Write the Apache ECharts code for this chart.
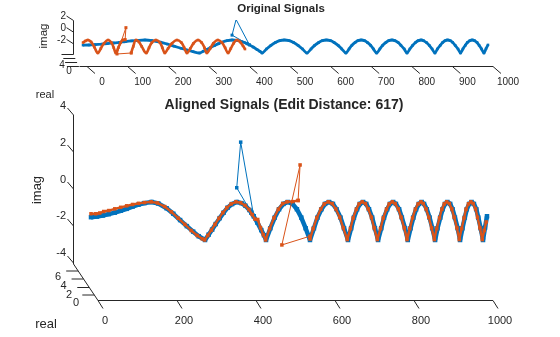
<!DOCTYPE html>
<html><head><meta charset="utf-8">
<script src="https://cdn.jsdelivr.net/npm/echarts@6/dist/echarts.min.js"></script>
<style>html,body{margin:0;padding:0;background:#fff}#c{width:560px;height:337px}</style>
</head><body><div id="c"></div><script>
// ---------- data ----------
const xTicks = [0,100,200,300,400,500,600,700,800,900,1000];
const xTicksBottom = [0,200,400,600,800,1000];
const yTicksTop = [2,0,-2];
const yTicksBottom = [4,2,0,-2,-4];
const realTicksTop = ['4','0'];
const realTicksBottom = ['6','4','2','0'];

// signal 1 (blue), same samples in both panels
const blueX = [0,15,30,45,60,75,90,105,120,135,153,170,191,208,225,242,258,272,288,297,306,315,325,335,345,356,368,380,390,400,405,411,420,430,437,442,
 453,464,475,486,497,509,520,531,542,553,563,572,582,591,601,611,620,630,639,649,657,664,672,679,687,695,702,710,717,725,
 733,740,748,755,763,770,778,785,793,800,807,814,821,828,835,841,848,855,862,869,875,882,888,894,900,907,913,919,926,932,
 938,944,949,955,961,967,973,978,984,990,995,1000];
const blueY = [-1.80,-1.77,-1.71,-1.64,-1.56,-1.46,-1.36,-1.24,-1.14,-1.06,-1.00,-1.08,-1.33,-1.62,-1.95,-2.27,-2.56,-2.80,-3.00,-2.72,-2.45,-2.16,-1.85,-1.56,-1.30,-1.11,-1.00,-1.06,-1.20,-1.42,-1.56,-1.75,-2.08,-2.48,-2.75,-3.00,
 -2.38,-1.82,-1.38,-1.10,-1.00,-1.10,-1.38,-1.82,-2.38,-3.00,-2.38,-1.82,-1.38,-1.10,-1.00,-1.10,-1.38,-1.82,-2.38,-3.00,-2.38,-1.82,-1.38,-1.10,-1.00,-1.10,-1.38,-1.82,-2.38,-3.00,
 -2.38,-1.82,-1.38,-1.10,-1.00,-1.10,-1.38,-1.82,-2.38,-3.00,-2.38,-1.82,-1.38,-1.10,-1.00,-1.10,-1.38,-1.82,-2.38,-3.00,-2.38,-1.82,-1.38,-1.10,-1.00,-1.10,-1.38,-1.82,-2.38,-3.00,
 -2.38,-1.82,-1.38,-1.10,-1.00,-1.10,-1.38,-1.82,-2.38,-3.00,-2.35,-1.75];
const blueSpikeX = [405,368,378,411];
const blueSpikeY = [-1.56,-0.25,2.15,-1.75];

// signal 2 (orange), original (shorter) version
const orangeOrigX = [0,6,12,20,28,37,44,52,62,70,76,81,87,93,98,104,104,119,124,131,138,145,156,163,170,180,190,196,202,210,220,232,243,250,257,265,273,284,293,300,306,314,322,333,343,351,358,365,372,380,388,395,400];
const orangeOrigY = [-1.4,-1.15,-1.0,-1.3,-2.1,-3.0,-2.3,-1.5,-1.0,-1.4,-2.2,-3.0,-2.2,-1.4,-1.0,-0.95,null,-3.0,-2.0,-1.0,-1.3,-2.0,-3.0,-2.2,-1.4,-1.0,-1.4,-2.2,-3.0,-2.3,-1.5,-1.0,-1.4,-2.2,-3.0,-2.3,-1.5,-1.0,-1.4,-2.2,-3.0,-2.3,-1.5,-1.0,-1.4,-2.2,-3.0,-2.3,-1.5,-1.0,-1.3,-1.9,-2.4];
const orangeOrigSpikeX = [104,106,84,119];
const orangeOrigSpikeY = [-0.95,0.9,-3.15,-3.0];

// signal 2 (orange), aligned version
const orangeAlX = [0,12,22,32,45,60,75,90,105,120,135,152,168,186,203,220,237,253,268,281,287,295,304,313,323,333,343,354,366,378,389,399,407,414,421,428,435,441,
 451,462,473,484,495,509,523,523,553,561,570,580,589,599,609,618,628,637,647,655,662,670,677,685,693,700,708,715,723,
 731,738,746,753,761,768,776,783,791,798,805,812,819,826,833,839,846,853,860,867,873,880,886,892,898,905,911,917,924,930,
 936,942,947,953,959,965,971,976,982,988,993,998];
const orangeAlY = [-1.62,-1.62,-1.58,-1.50,-1.45,-1.36,-1.28,-1.20,-1.13,-1.07,-1.03,-0.99,-1.05,-1.24,-1.52,-1.85,-2.18,-2.50,-2.76,-2.94,-3.00,-2.76,-2.48,-2.18,-1.86,-1.56,-1.30,-1.10,-0.99,-1.04,-1.18,-1.40,-1.66,-1.90,-1.92,-2.35,-2.72,-3.00,
 -2.40,-1.84,-1.38,-1.08,-0.99,-0.98,-0.92,null,-2.95,-2.40,-1.84,-1.38,-1.10,-0.99,-1.08,-1.36,-1.80,-2.36,-2.98,-2.40,-1.84,-1.38,-1.10,-0.99,-1.08,-1.36,-1.80,-2.36,-2.98,
 -2.40,-1.84,-1.38,-1.10,-0.99,-1.08,-1.36,-1.80,-2.36,-2.98,-2.40,-1.84,-1.38,-1.10,-0.99,-1.08,-1.36,-1.80,-2.36,-2.98,-2.40,-1.84,-1.38,-1.10,-0.99,-1.08,-1.36,-1.80,-2.36,-2.98,
 -2.40,-1.84,-1.38,-1.10,-0.99,-1.08,-1.36,-1.80,-2.36,-2.98,-2.50,-2.05];
const orangeAlSpikeX = [523,528,482,553];
const orangeAlSpikeY = [-0.92,0.95,-3.26,-2.80];

// ---------- chart ----------
const BLUE = '#0072BD', ORANGE = '#D95319', AX = '#262626', FONT = '"Liberation Sans", Arial, sans-serif';
const pts = (xs, ys) => xs.map((x, i) => [x, ys[i] === null ? '-' : ys[i]]);

function lineSeries(xi, xs, ys, color, lw, sym, smooth) {
  return { type: 'line', xAxisIndex: xi, yAxisIndex: xi, data: pts(xs, ys), connectNulls: false,
    symbol: 'rect', symbolSize: sym, showSymbol: true, showAllSymbol: true, silent: true, smooth: smooth || false,
    lineStyle: { color: color, width: lw }, itemStyle: { color: color }, z: 3 };
}

function frame(params, api, cfg) {
  const c = [];
  const L = (x1, y1, x2, y2) => c.push({ type: 'line', shape: { x1, y1, x2, y2 }, style: { stroke: AX, lineWidth: 1 } });
  const base = api.coord([0, cfg.yMin]);
  const axX = Math.round(base[0] - cfg.yOff) + 0.5;
  const axY = Math.round(base[1] + cfg.xOff) + 0.5;
  // imag axis
  L(axX, api.coord([0, cfg.yMax])[1], axX, cfg.vEnd(axY));
  cfg.yTicks.forEach(v => { const y = api.coord([0, v])[1]; L(axX, y, axX - cfg.ytdx, y - cfg.ytdy); });
  // real (depth) axis
  cfg.depth(L, axX, axY);
  // x axis
  L(cfg.xStart(axX), axY, api.coord([1000, cfg.yMin])[0], axY);
  cfg.xTicks.forEach(v => { const x = api.coord([v, cfg.yMin])[0]; L(x, axY, x + cfg.xtdx, axY + cfg.xtdy); });
  return { type: 'group', children: c };
}

const topCfg = { yMin: -4, yMax: 2, yOff: 14, xOff: 10, yTicks: yTicksTop, xTicks: xTicks,
  ytdx: 7, ytdy: 4.5, xtdx: 8, xtdy: 7,
  vEnd: axY => axY - 12,
  xStart: axX => axX + 6,
  depth: (L, axX, axY) => { [-12, -8, -4, 0].forEach(d => { const y = axY + d; const x0 = axX + (d + 12) * 0.45; L(x0 - 12, y, x0, y); }); }
};
const botCfg = { yMin: -4, yMax: 4, yOff: 25, xOff: 36.5, yTicks: yTicksBottom, xTicks: xTicksBottom,
  ytdx: 6, ytdy: 7, xtdx: 5, xtdy: 8,
  vEnd: axY => axY - 36.5,
  xStart: axX => axX + 24.5,
  depth: (L, axX, axY) => {
    const y0 = axY - 36.5;
    L(axX, y0, axX + 24.5, axY);
    [7, 15, 23.5, 31].forEach(d => { const y = y0 + d; const x0 = axX + d * 24.5 / 36.5; L(x0 - 12, y, x0, y); });
  }
};

const lbl = (size, pad) => ({ color: AX, fontFamily: FONT, fontSize: size, padding: pad, formatter: v => String(v) });
const hideAll = { axisLine: { show: false }, axisTick: { show: false }, splitLine: { show: false }, axisLabel: { show: false } };

const option = {
  animation: false,
  backgroundColor: '#fff',
  grid: [
    { left: 87, width: 406, top: 20.5, height: 35 },     // 0 top: tick frame
    { left: 83, width: 405, top: 20.5, height: 39 },     // 1 top: data
    { left: 98, width: 395, top: 115, height: 148 },     // 2 bottom: tick frame
    { left: 91, width: 396, top: 107, height: 152 },     // 3 bottom: data
    { left: 87, width: 406, top: 16, height: 36 },       // 4 top: imag labels
    { left: 98, width: 395, top: 106, height: 147 }      // 5 bottom: imag labels
  ],
  xAxis: [
    Object.assign({ gridIndex: 0, type: 'value', min: 0, max: 1000, interval: 100, offset: 10 }, hideAll,
      { axisLabel: Object.assign(lbl(10, [0, 0, 0, 30]), { margin: 12 }) }),
    { gridIndex: 1, type: 'value', min: 0, max: 1000, show: false },
    Object.assign({ gridIndex: 2, type: 'value', min: 0, max: 1000, interval: 200, offset: 36.5 }, hideAll,
      { axisLabel: Object.assign(lbl(11, [0, 0, 0, 14]), { margin: 16 }) }),
    { gridIndex: 3, type: 'value', min: 0, max: 1000, show: false },
    { gridIndex: 4, type: 'value', min: 0, max: 1000, show: false },
    { gridIndex: 5, type: 'value', min: 0, max: 1000, show: false }
  ],
  yAxis: [
    Object.assign({ gridIndex: 0, type: 'value', min: -4, max: 2, interval: 2 }, hideAll),
    { gridIndex: 1, type: 'value', min: -4, max: 2, show: false },
    Object.assign({ gridIndex: 2, type: 'value', min: -4, max: 4, interval: 2 }, hideAll),
    { gridIndex: 3, type: 'value', min: -4, max: 4, show: false },
    Object.assign({ gridIndex: 4, type: 'value', min: -4, max: 2, interval: 2, offset: 14 }, hideAll,
      { axisLabel: Object.assign(lbl(10, 0), { margin: 7, showMinLabel: false }) }),
    Object.assign({ gridIndex: 5, type: 'value', min: -4, max: 4, interval: 2, offset: 25 }, hideAll,
      { axisLabel: Object.assign(lbl(11, 0), { margin: 7 }) })
  ],
  graphic: [
    { type: 'text', x: 281, y: 9, style: { text: 'Original Signals', fill: AX, font: 'bold 11.5px ' + FONT, align: 'center', verticalAlign: 'middle' } },
    { type: 'text', x: 284, y: 105, style: { text: 'Aligned Signals (Edit Distance: 617)', fill: AX, font: 'bold 14px ' + FONT, align: 'center', verticalAlign: 'middle' } },
    { type: 'text', x: 44, y: 36, rotation: Math.PI / 2, style: { text: 'imag', fill: AX, font: '11.5px ' + FONT, align: 'center', verticalAlign: 'middle' } },
    { type: 'text', x: 37, y: 190, rotation: Math.PI / 2, style: { text: 'imag', fill: AX, font: '13px ' + FONT, align: 'center', verticalAlign: 'middle' } },
    { type: 'text', x: 45, y: 95, style: { text: 'real', fill: AX, font: '11px ' + FONT, align: 'center', verticalAlign: 'middle' } },
    { type: 'text', x: 46, y: 324, style: { text: 'real', fill: AX, font: '13px ' + FONT, align: 'center', verticalAlign: 'middle' } },
    { type: 'text', x: 62, y: 65.5, style: { text: realTicksTop[0], fill: AX, font: '10px ' + FONT, align: 'center', verticalAlign: 'middle' } },
    { type: 'text', x: 69, y: 71, style: { text: realTicksTop[1], fill: AX, font: '10px ' + FONT, align: 'center', verticalAlign: 'middle' } },
    { type: 'text', x: 58, y: 277, style: { text: realTicksBottom[0], fill: AX, font: '11px ' + FONT, align: 'center', verticalAlign: 'middle' } },
    { type: 'text', x: 63.5, y: 286, style: { text: realTicksBottom[1], fill: AX, font: '11px ' + FONT, align: 'center', verticalAlign: 'middle' } },
    { type: 'text', x: 69, y: 294.5, style: { text: realTicksBottom[2], fill: AX, font: '11px ' + FONT, align: 'center', verticalAlign: 'middle' } },
    { type: 'text', x: 76, y: 303, style: { text: realTicksBottom[3], fill: AX, font: '11px ' + FONT, align: 'center', verticalAlign: 'middle' } }
  ],
  series: [
    { type: 'custom', xAxisIndex: 0, yAxisIndex: 0, silent: true, clip: false, data: [[0, 0]], z: 1,
      renderItem: (p, api) => frame(p, api, topCfg) },
    { type: 'custom', xAxisIndex: 2, yAxisIndex: 2, silent: true, clip: false, data: [[0, 0]], z: 1,
      renderItem: (p, api) => frame(p, api, botCfg) },
    // top panel
    lineSeries(1, blueX, blueY, BLUE, 2.8, 2.5, 0.3),
    Object.assign(lineSeries(1, blueSpikeX, blueSpikeY, BLUE, 1, 3), { z: 4 }),
    Object.assign(lineSeries(1, orangeOrigX, orangeOrigY, ORANGE, 2.6, 2.5, 0.4), { z: 5 }),
    Object.assign(lineSeries(1, orangeOrigSpikeX, orangeOrigSpikeY, ORANGE, 1, 3), { z: 6 }),
    // bottom panel
    lineSeries(3, blueX, blueY, BLUE, 4.5, 4.5),
    Object.assign(lineSeries(3, blueSpikeX, blueSpikeY, BLUE, 1, 3.5), { z: 4 }),
    Object.assign(lineSeries(3, orangeAlX, orangeAlY, ORANGE, 2.4, 3.5), { z: 5 }),
    Object.assign(lineSeries(3, orangeAlSpikeX, orangeAlSpikeY, ORANGE, 1, 3.5), { z: 6 })
  ]
};

const chart = echarts.init(document.getElementById('c'), null, { renderer: 'canvas' });
chart.setOption(option);
</script></body></html>
